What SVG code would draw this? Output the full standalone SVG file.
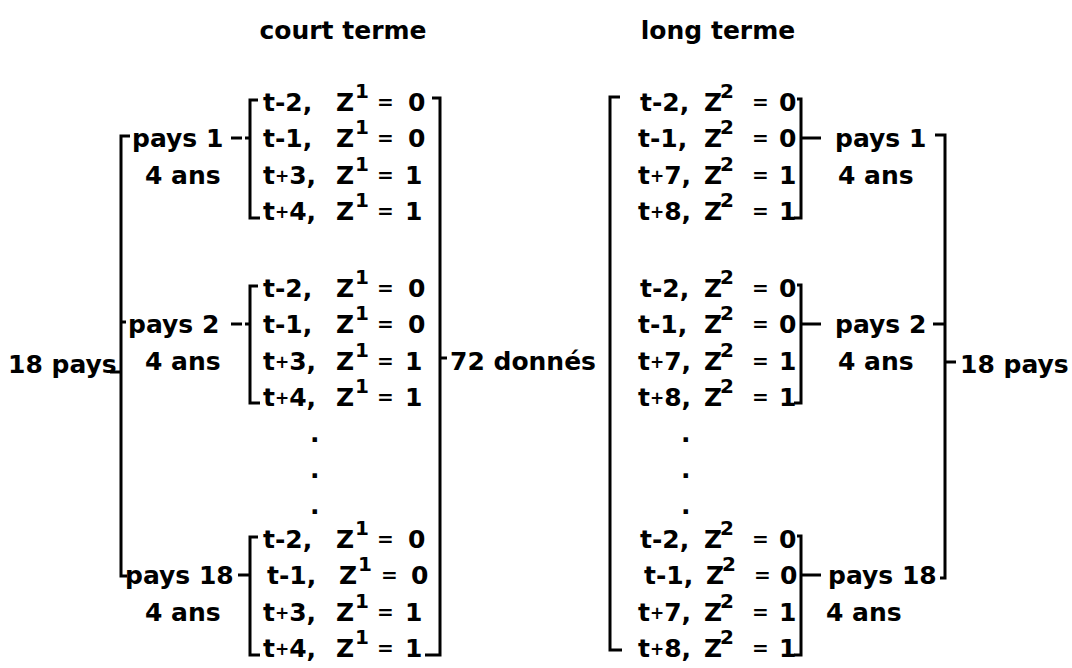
<svg xmlns="http://www.w3.org/2000/svg" width="1072" height="668" viewBox="0 0 1072 668">
<style>
.t{font-family:"DejaVu Sans","Liberation Sans",sans-serif;font-size:25px;font-weight:bold;fill:#000}
.s{font-size:20px}
.e{font-size:20px}
.p{font-size:17px}
.ln{stroke:#000;stroke-width:3;fill:none;stroke-linejoin:miter}
</style>
<rect width="1072" height="668" fill="#fff"/>
<g id="titles">
<text class="t" x="343" y="39" text-anchor="middle">court terme</text>
<text class="t" x="718" y="39" text-anchor="middle">long terme</text>
</g>
<g id="connectors">
<path class="ln" d="M130 136 H121 V576 H127"/>
<path class="ln" d="M121 322 H126"/>
<path class="ln" d="M110 372 H121"/>
<path class="ln" d="M258 100 H250 V218 H260 M245 138 H250 M231 138 H242"/>
<path class="ln" d="M258 286 H250 V403 H260 M245 324 H250 M231 324 H242"/>
<path class="ln" d="M258 537 H250 V655 H260 M238 575 H250"/>
<path class="ln" d="M432 98 H440 V655 H425"/>
<path class="ln" d="M440 358 H447"/>
<path class="ln" d="M620 97 H610 V650 H622"/>
<path class="ln" d="M797 99 H801 V218 H794 M801 138 H821"/>
<path class="ln" d="M797 285 H801 V403 H794 M801 324 H821"/>
<path class="ln" d="M797 536 H801 V655 H794 M801 575 H821"/>
<path class="ln" d="M935 135 H945 V578 H940"/>
<path class="ln" d="M933 324 H945"/>
<path class="ln" d="M945 362 H956"/>
</g>
<g id="left-labels">
<text class="t" x="8" y="373">18 pays</text>
<text class="t" x="132" y="147">pays 1</text>
<text class="t" x="145" y="184">4 ans</text>
<text class="t" x="128" y="333">pays 2</text>
<text class="t" x="145" y="370">4 ans</text>
<text class="t" x="125" y="584">pays 18</text>
<text class="t" x="145" y="621">4 ans</text>
<text class="t" x="450" y="370">72 donnés</text>
</g>
<g id="court-g1">
<text class="t" y="111"><tspan x="263">t-2,</tspan><tspan x="336">Z</tspan><tspan class="s" x="355" y="98">1</tspan><tspan class="e" x="377" y="109">=</tspan><tspan x="408" y="111">0</tspan></text>
<text class="t" y="147"><tspan x="263">t-1,</tspan><tspan x="336">Z</tspan><tspan class="s" x="355" y="134">1</tspan><tspan class="e" x="377" y="145">=</tspan><tspan x="408" y="147">0</tspan></text>
<text class="t" y="184"><tspan x="263">t</tspan><tspan class="p" y="182">+</tspan><tspan y="184">3,</tspan><tspan x="336">Z</tspan><tspan class="s" x="355" y="171">1</tspan><tspan class="e" x="377" y="182">=</tspan><tspan x="405" y="184">1</tspan></text>
<text class="t" y="220"><tspan x="263">t</tspan><tspan class="p" y="218">+</tspan><tspan y="220">4,</tspan><tspan x="336">Z</tspan><tspan class="s" x="355" y="207">1</tspan><tspan class="e" x="377" y="218">=</tspan><tspan x="405" y="220">1</tspan></text>
</g>
<g id="court-g2">
<text class="t" y="297"><tspan x="263">t-2,</tspan><tspan x="336">Z</tspan><tspan class="s" x="355" y="284">1</tspan><tspan class="e" x="377" y="295">=</tspan><tspan x="408" y="297">0</tspan></text>
<text class="t" y="333"><tspan x="263">t-1,</tspan><tspan x="336">Z</tspan><tspan class="s" x="355" y="320">1</tspan><tspan class="e" x="377" y="331">=</tspan><tspan x="408" y="333">0</tspan></text>
<text class="t" y="370"><tspan x="263">t</tspan><tspan class="p" y="368">+</tspan><tspan y="370">3,</tspan><tspan x="336">Z</tspan><tspan class="s" x="355" y="357">1</tspan><tspan class="e" x="377" y="368">=</tspan><tspan x="405" y="370">1</tspan></text>
<text class="t" y="406"><tspan x="263">t</tspan><tspan class="p" y="404">+</tspan><tspan y="406">4,</tspan><tspan x="336">Z</tspan><tspan class="s" x="355" y="393">1</tspan><tspan class="e" x="377" y="404">=</tspan><tspan x="405" y="406">1</tspan></text>
</g>
<g id="court-dots">
<text class="t" x="310" y="442">.</text>
<text class="t" x="310" y="478">.</text>
<text class="t" x="310" y="514">.</text>
</g>
<g id="court-g3">
<text class="t" y="548"><tspan x="263">t-2,</tspan><tspan x="336">Z</tspan><tspan class="s" x="355" y="535">1</tspan><tspan class="e" x="377" y="546">=</tspan><tspan x="408" y="548">0</tspan></text>
<text class="t" y="584"><tspan x="267">t-1,</tspan><tspan x="339">Z</tspan><tspan class="s" x="358" y="571">1</tspan><tspan class="e" x="381" y="582">=</tspan><tspan x="411" y="584">0</tspan></text>
<text class="t" y="621"><tspan x="263">t</tspan><tspan class="p" y="619">+</tspan><tspan y="621">3,</tspan><tspan x="336">Z</tspan><tspan class="s" x="355" y="608">1</tspan><tspan class="e" x="377" y="619">=</tspan><tspan x="405" y="621">1</tspan></text>
<text class="t" y="657"><tspan x="263">t</tspan><tspan class="p" y="655">+</tspan><tspan y="657">4,</tspan><tspan x="336">Z</tspan><tspan class="s" x="355" y="644">1</tspan><tspan class="e" x="377" y="655">=</tspan><tspan x="405" y="657">1</tspan></text>
</g>
<g id="long-g1">
<text class="t" y="111"><tspan x="640">t-2,</tspan><tspan x="704">Z</tspan><tspan class="s" x="720" y="98">2</tspan><tspan class="e" x="752" y="109">=</tspan><tspan x="779" y="111">0</tspan></text>
<text class="t" y="147"><tspan x="638">t-1,</tspan><tspan x="704">Z</tspan><tspan class="s" x="720" y="134">2</tspan><tspan class="e" x="752" y="145">=</tspan><tspan x="779" y="147">0</tspan></text>
<text class="t" y="184"><tspan x="638">t</tspan><tspan class="p" y="182">+</tspan><tspan y="184">7,</tspan><tspan x="704">Z</tspan><tspan class="s" x="720" y="171">2</tspan><tspan class="e" x="752" y="182">=</tspan><tspan x="779" y="184">1</tspan></text>
<text class="t" y="220"><tspan x="638">t</tspan><tspan class="p" y="218">+</tspan><tspan y="220">8,</tspan><tspan x="704">Z</tspan><tspan class="s" x="720" y="207">2</tspan><tspan class="e" x="752" y="218">=</tspan><tspan x="779" y="220">1</tspan></text>
</g>
<g id="long-g2">
<text class="t" y="297"><tspan x="640">t-2,</tspan><tspan x="704">Z</tspan><tspan class="s" x="720" y="284">2</tspan><tspan class="e" x="752" y="295">=</tspan><tspan x="779" y="297">0</tspan></text>
<text class="t" y="333"><tspan x="638">t-1,</tspan><tspan x="704">Z</tspan><tspan class="s" x="720" y="320">2</tspan><tspan class="e" x="752" y="331">=</tspan><tspan x="779" y="333">0</tspan></text>
<text class="t" y="370"><tspan x="638">t</tspan><tspan class="p" y="368">+</tspan><tspan y="370">7,</tspan><tspan x="704">Z</tspan><tspan class="s" x="720" y="357">2</tspan><tspan class="e" x="752" y="368">=</tspan><tspan x="779" y="370">1</tspan></text>
<text class="t" y="406"><tspan x="638">t</tspan><tspan class="p" y="404">+</tspan><tspan y="406">8,</tspan><tspan x="704">Z</tspan><tspan class="s" x="720" y="393">2</tspan><tspan class="e" x="752" y="404">=</tspan><tspan x="779" y="406">1</tspan></text>
</g>
<g id="long-dots">
<text class="t" x="681" y="442">.</text>
<text class="t" x="681" y="478">.</text>
<text class="t" x="681" y="514">.</text>
</g>
<g id="long-g3">
<text class="t" y="548"><tspan x="640">t-2,</tspan><tspan x="704">Z</tspan><tspan class="s" x="720" y="535">2</tspan><tspan class="e" x="752" y="546">=</tspan><tspan x="779" y="548">0</tspan></text>
<text class="t" y="584"><tspan x="644">t-1,</tspan><tspan x="706">Z</tspan><tspan class="s" x="722" y="571">2</tspan><tspan class="e" x="754" y="582">=</tspan><tspan x="780" y="584">0</tspan></text>
<text class="t" y="621"><tspan x="638">t</tspan><tspan class="p" y="619">+</tspan><tspan y="621">7,</tspan><tspan x="704">Z</tspan><tspan class="s" x="720" y="608">2</tspan><tspan class="e" x="752" y="619">=</tspan><tspan x="779" y="621">1</tspan></text>
<text class="t" y="657"><tspan x="638">t</tspan><tspan class="p" y="655">+</tspan><tspan y="657">8,</tspan><tspan x="704">Z</tspan><tspan class="s" x="720" y="644">2</tspan><tspan class="e" x="752" y="655">=</tspan><tspan x="779" y="657">1</tspan></text>
</g>
<g id="right-labels">
<text class="t" x="835" y="147">pays 1</text>
<text class="t" x="838" y="184">4 ans</text>
<text class="t" x="835" y="333">pays 2</text>
<text class="t" x="838" y="370">4 ans</text>
<text class="t" x="828" y="584">pays 18</text>
<text class="t" x="826" y="621">4 ans</text>
<text class="t" x="960" y="373">18 pays</text>
</g>
</svg>
